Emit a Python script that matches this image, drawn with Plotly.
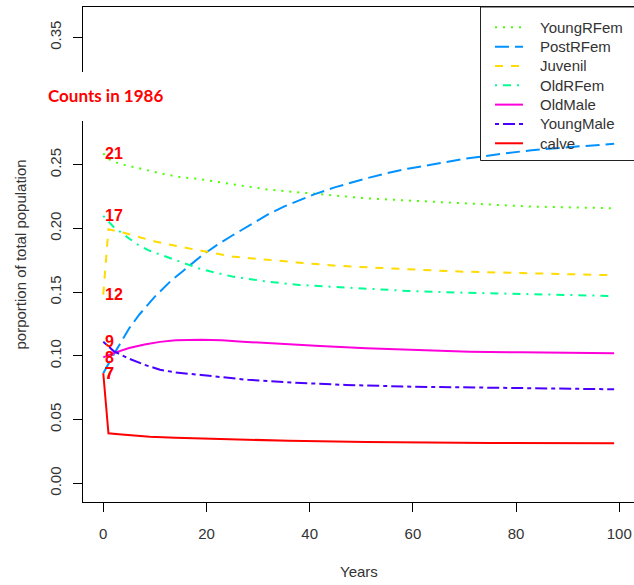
import plotly.graph_objects as go

# ---- data ----
series_names = ["YoungRFem", "PostRFem", "Juvenil", "OldRFem", "OldMale", "YoungMale", "calve"]
counts_1986 = [21, 7, 12, 17, 8, 9, 7]

yrf_years = [0, 1, 3, 5, 9, 12, 15, 19, 25, 32, 39, 44, 51, 60, 70, 83, 99]
yrf_vals = [0.259, 0.2545, 0.251, 0.249, 0.2452, 0.2425, 0.2403, 0.2386, 0.2348, 0.2305, 0.228,
            0.2262, 0.2237, 0.2218, 0.2198, 0.2172, 0.2159]

prf_years = [0, 2, 5, 7, 10, 13, 19, 22, 25, 28, 32, 35, 38, 41, 45, 48, 51, 55, 59, 64, 70, 77, 83, 90, 99]
prf_vals = [0.0864, 0.101, 0.1215, 0.1325, 0.1465, 0.1585, 0.1785, 0.187, 0.1945, 0.2018, 0.2112,
            0.2172, 0.2222, 0.227, 0.2325, 0.2362, 0.2394, 0.2434, 0.247, 0.2504, 0.2548, 0.2585,
            0.2615, 0.2638, 0.2665]

juv_years = [0, 1, 4, 7, 10, 13, 16, 19, 25, 32, 38, 45, 51, 59, 70, 83, 99]
juv_vals = [0.1481, 0.1994, 0.1967, 0.1933, 0.1898, 0.1872, 0.1847, 0.1825, 0.178, 0.1752, 0.1732,
            0.1708, 0.1695, 0.168, 0.1661, 0.1648, 0.1633]

orf_years = [0, 2, 5, 7, 9, 12, 15, 19, 25, 32, 38, 45, 51, 59, 70, 83, 99]
orf_vals = [0.2099, 0.2012, 0.1922, 0.1865, 0.1825, 0.178, 0.1738, 0.168, 0.1623, 0.1582, 0.1557,
            0.1543, 0.153, 0.151, 0.1496, 0.1486, 0.147]

om_years = [0, 2, 5, 8, 11, 14, 19, 23, 27, 34, 42, 51, 63, 71, 81, 96, 99]
om_vals = [0.0988, 0.1022, 0.1062, 0.109, 0.111, 0.1123, 0.1126, 0.1122, 0.1112, 0.1094, 0.1078,
           0.106, 0.1042, 0.1033, 0.1028, 0.1023, 0.102]

ym_years = [0, 2, 5, 8, 11, 14, 19, 28, 37, 47, 60, 74, 87, 99]
ym_vals = [0.1111, 0.1038, 0.0978, 0.093, 0.0891, 0.087, 0.085, 0.0812, 0.079, 0.0772, 0.0758,
           0.075, 0.0746, 0.0738]

calve_years = [0, 1, 3, 6, 9, 14, 19, 26, 36, 51, 75, 99]
calve_vals = [0.0864, 0.0392, 0.0385, 0.0374, 0.0366, 0.0358, 0.0351, 0.0345, 0.0333, 0.0324,
              0.0316, 0.0314]

x_ticks = [0, 20, 40, 60, 80, 100]
y_ticks = [0.00, 0.05, 0.10, 0.15, 0.20, 0.25, 0.30, 0.35]

# ---- styles ----
colors = ["#49FF00", "#0092FF", "#FFDB00", "#00FF92", "#FF00DB", "#4900FF", "#FF0000"]
dashes = ["2px,6px", "14px,6px", "8px,8px", "2px,6px,8px,6px", "solid", "4px,4px,12px,4px", "solid"]
years_all = [yrf_years, prf_years, juv_years, orf_years, om_years, ym_years, calve_years]
vals_all = [yrf_vals, prf_vals, juv_vals, orf_vals, om_vals, ym_vals, calve_vals]

FONT = "Liberation Sans, Arial, sans-serif"
TXT = "#333333"

fig = go.Figure()
for name, xs, ys, c, d in zip(series_names, years_all, vals_all, colors, dashes):
    fig.add_trace(go.Scatter(x=xs, y=ys, mode="lines", name=name,
                             line=dict(color=c, width=2, dash=d), showlegend=False))

W, H = 634, 585
ML, MR, MT, MB = 83, 0, 7, 83
PW, PH = W - ML - MR, H - MT - MB


def px_x(p):
    return (p - ML) / PW


def px_y(p):
    return (H - MB - p) / PH


annotations = []
# count labels at start of each series
for cnt, ys in zip(counts_1986, vals_all):
    annotations.append(dict(x=0, y=ys[0], xref="x", yref="y", text=str(cnt), showarrow=False,
                            xanchor="left", yanchor="middle", xshift=0,
                            font=dict(family=FONT, size=16, color="#FF0000", weight="bold")))

# axis titles
annotations.append(dict(x=0.5, y=px_y(571), xref="paper", yref="paper", text="Years", showarrow=False,
                        xanchor="center", yanchor="middle", font=dict(family=FONT, size=15, color=TXT)))
annotations.append(dict(x=px_x(20), y=0.5, xref="paper", yref="paper", text="porportion of total population",
                        showarrow=False, textangle=-90, xanchor="center", yanchor="middle",
                        font=dict(family=FONT, size=15, color=TXT)))

# "Counts in 1986" box text
annotations.append(dict(x=px_x(105), y=px_y(95), xref="paper", yref="paper", text="<b>Counts in 1986</b>",
                        showarrow=False, xanchor="center", yanchor="middle",
                        font=dict(family="Lato, Open Sans, sans-serif", size=17, color="#FF0000")))

shapes = [
    dict(type="rect", xref="paper", yref="paper", x0=px_x(0), x1=px_x(178), y0=px_y(121), y1=px_y(72),
         fillcolor="white", line=dict(width=0), layer="above"),
    # legend box
    dict(type="rect", xref="paper", yref="paper", x0=px_x(480.5), x1=px_x(640), y0=px_y(160.5), y1=1,
         fillcolor="rgba(0,0,0,0)", line=dict(color="#222222", width=1), layer="above"),
]

# manual legend (R-style)
row0, step = 27.3, 19.33
for i, (name, c, d) in enumerate(zip(series_names, colors, dashes)):
    yy = px_y(row0 + i * step)
    shapes.append(dict(type="line", xref="paper", yref="paper", x0=px_x(495), x1=px_x(523), y0=yy, y1=yy,
                       line=dict(color=c, width=2, dash=d), layer="above"))
    annotations.append(dict(x=px_x(538), y=yy, xref="paper", yref="paper", text=name, showarrow=False,
                            xanchor="left", yanchor="middle", font=dict(family=FONT, size=15, color=TXT)))

fig.update_layout(
    width=W, height=H,
    margin=dict(l=ML, r=MR, t=MT, b=MB),
    plot_bgcolor="white", paper_bgcolor="white",
    showlegend=False,
    annotations=annotations,
    shapes=shapes,
    xaxis=dict(range=[-3.93, 102.85], tickvals=x_ticks, ticktext=[str(v) for v in x_ticks],
               showgrid=False, zeroline=False, showline=True, linecolor="black", linewidth=1,
               mirror=True, ticks="outside", ticklen=9, tickcolor="black", ticklabelstandoff=9,
               tickfont=dict(family=FONT, size=15, color=TXT)),
    yaxis=dict(range=[-0.0147, 0.3739], tickvals=y_ticks, ticktext=["%.2f" % v for v in y_ticks],
               showgrid=False, zeroline=False, showline=True, linecolor="black", linewidth=1,
               mirror=True, ticks="outside", ticklen=9, tickcolor="black", tickangle=-90,
               ticklabelstandoff=6,
               tickfont=dict(family=FONT, size=15, color=TXT)),
)

fig.write_html("out.html")
